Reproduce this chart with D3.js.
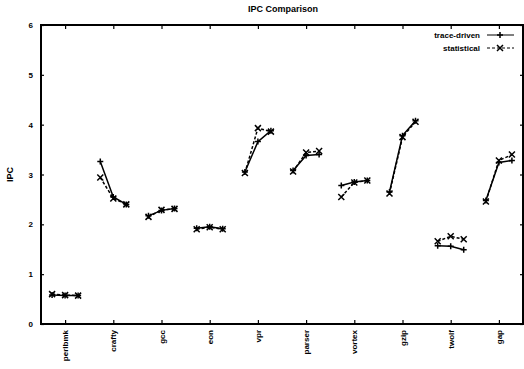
<!DOCTYPE html>
<html>
<head>
<meta charset="utf-8">
<script src="https://cdn.jsdelivr.net/npm/d3@7"></script>
<style>
	body { margin: 0; background: #fff; }
	text { font-family: "Liberation Sans", Arial, sans-serif; font-weight: bold; fill: #000; }
</style>
</head>
<body>
<div id="box"></div>
<script>
// benchmarks along the x axis (labels are hard to read in the scan)
const benchmarks = ['perlbmk', 'crafty', 'gcc', 'eon', 'vpr', 'parser', 'vortex', 'gzip', 'twolf', 'gap'];
// three configurations per benchmark, drawn slightly apart
const configOffsets = [-0.27, 0, 0.27];

const traceDriven = [
	[0.58, 0.57, 0.57],
	[3.26, 2.55, 2.40],
	[2.17, 2.28, 2.32],
	[1.92, 1.95, 1.91],
	[3.05, 3.66, 3.88],
	[3.08, 3.38, 3.40],
	[2.78, 2.85, 2.88],
	[2.65, 3.78, 4.08],
	[1.57, 1.56, 1.49],
	[2.48, 3.24, 3.28],
];
const statistical = [
	[0.60, 0.58, 0.57],
	[2.94, 2.52, 2.40],
	[2.15, 2.29, 2.31],
	[1.90, 1.94, 1.90],
	[3.03, 3.93, 3.86],
	[3.06, 3.44, 3.47],
	[2.55, 2.84, 2.88],
	[2.62, 3.75, 4.06],
	[1.66, 1.76, 1.70],
	[2.46, 3.28, 3.40],
];
const yTicks = [0, 1, 2, 3, 4, 5, 6];

const width = 524;
const height = 369;
const marginLeft = 41;
const marginRight = 1;
const marginTop = 25;
const marginBottom = 45;

const x = d3.scaleLinear([0.5, benchmarks.length + 0.5], [marginLeft, width - marginRight]);
const y = d3.scaleLinear([0, 6], [height - marginBottom, marginTop]);

const svg = d3.select('#box').append('svg')
	.attr('width', width)
	.attr('height', height)
	.attr('viewBox', [0, 0, width, height]);

// title
svg.append('text')
	.attr('x', 283)
	.attr('y', 12)
	.attr('text-anchor', 'middle')
	.attr('font-size', 9)
	.text('IPC Comparison');

// y label
svg.append('text')
	.attr('transform', `translate(13,${y(3)}) rotate(-90)`)
	.attr('text-anchor', 'middle')
	.attr('font-size', 9)
	.text('IPC');

// axes: left with labels, right mirrored ticks
svg.append('g')
	.attr('transform', `translate(${marginLeft},0)`)
	.call(d3.axisRight(y).tickValues(yTicks).tickSize(3).tickFormat(''))
	.call(g => g.select('.domain').remove());

svg.append('g')
	.selectAll('text')
	.data(yTicks)
	.join('text')
	.attr('x', 33)
	.attr('y', d => y(d) + 3)
	.attr('text-anchor', 'end')
	.attr('font-size', 8)
	.text(d => d);

svg.append('g')
	.attr('transform', `translate(${width - marginRight},0)`)
	.call(d3.axisLeft(y).tickValues(yTicks).tickSize(3).tickFormat(''))
	.call(g => g.select('.domain').remove());

svg.append('g')
	.attr('transform', `translate(0,${height - marginBottom})`)
	.call(d3.axisTop(x).tickValues(d3.range(1, benchmarks.length + 1)).tickSize(4).tickFormat(''))
	.call(g => g.select('.domain').remove());

svg.append('g')
	.attr('transform', `translate(0,${marginTop})`)
	.call(d3.axisBottom(x).tickValues(d3.range(1, benchmarks.length + 1)).tickSize(4).tickFormat(''))
	.call(g => g.select('.domain').remove());

svg.selectAll('.tick line').attr('stroke', '#000').attr('stroke-width', 1.2);

// benchmark names, rotated
svg.append('g')
	.selectAll('text')
	.data(benchmarks)
	.join('text')
	.attr('transform', (d, i) => `translate(${x(i + 1) + 3},${height - marginBottom + 6}) rotate(-90)`)
	.attr('text-anchor', 'end')
	.attr('font-size', 8)
	.text(d => d);

// frame
svg.append('rect')
	.attr('x', marginLeft)
	.attr('y', marginTop)
	.attr('width', width - marginRight - marginLeft)
	.attr('height', height - marginBottom - marginTop)
	.attr('fill', 'none')
	.attr('stroke', '#000')
	.attr('stroke-width', 2);

const series = [
	{ name: 'trace-driven', data: traceDriven, dash: null, marker: 'plus' },
	{ name: 'statistical', data: statistical, dash: '3,2', marker: 'cross' },
];

const line = d3.line()
	.x(d => x(d[0]))
	.y(d => y(d[1]));

function marker(g, kind, cx, cy) {
	const s = 3;
	const p = kind === 'plus'
		? `M${cx - s},${cy}H${cx + s}M${cx},${cy - s}V${cy + s}`
		: `M${cx - s},${cy - s}L${cx + s},${cy + s}M${cx - s},${cy + s}L${cx + s},${cy - s}`;
	g.append('path')
		.attr('d', p)
		.attr('stroke', '#000')
		.attr('stroke-width', 1.5)
		.attr('fill', 'none');
}

for (const s of series) {
	const g = svg.append('g');
	s.data.forEach((vals, i) => {
		const pts = vals.map((v, j) => [i + 1 + configOffsets[j], v]);
		g.append('path')
			.attr('d', line(pts))
			.attr('fill', 'none')
			.attr('stroke', '#000')
			.attr('stroke-width', 1.5)
			.attr('stroke-dasharray', s.dash);
		for (const p of pts) {
			marker(g, s.marker, x(p[0]), y(p[1]));
		}
	});
}

// legend
const legend = svg.append('g');
series.forEach((s, i) => {
	const ly = 35 + i * 13;
	legend.append('text')
		.attr('x', 480)
		.attr('y', ly + 3)
		.attr('text-anchor', 'end')
		.attr('font-size', 8)
		.text(s.name);
	legend.append('line')
		.attr('x1', 487)
		.attr('x2', 514)
		.attr('y1', ly)
		.attr('y2', ly)
		.attr('stroke', '#000')
		.attr('stroke-width', 1)
		.attr('stroke-dasharray', s.dash);
	marker(legend, s.marker, 500, ly);
});
</script>
</body>
</html>
